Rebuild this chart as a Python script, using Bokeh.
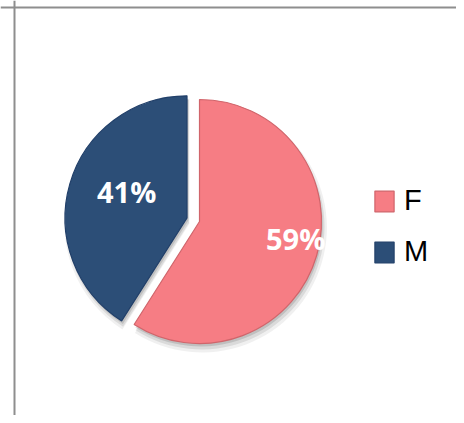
import math
from bokeh.plotting import figure
from bokeh.models import Range1d, Span, Legend, LegendItem, ColumnDataSource
from bokeh.embed import file_html
from bokeh.resources import INLINE
from bokeh.core.properties import value

# ---- data ----
categories = ["F", "M"]
values = [59, 41]
labels = ["59%", "41%"]
colors = ["#F67D84", "#2C4E77"]
edge_colors = ["#D0656B", "#22406A"]

# ---- layout / style constants ----
W, H = 456, 415
cx, cy, r = 199, 202, 122
explode = [0, 13]
label_frac = [0.80, 0.54]
label_shift = [6.3, -7.4]

p = figure(width=W, height=H, x_range=Range1d(0, W), y_range=Range1d(423 - H, 423),
           output_backend="svg", toolbar_location=None, min_border=0)
p.axis.visible = False
p.grid.visible = False
p.outline_line_color = None
p.background_fill_color = "white"
p.border_fill_color = "white"

total = float(sum(values))
cum = 0.0
xs, ys, starts, ends, lx, ly = [], [], [], [], [], []
for i, v in enumerate(values):
    a0 = 90 - cum / total * 360
    cum += v
    a1 = 90 - cum / total * 360
    mid = math.radians((a0 + a1) / 2)
    x0 = cx + explode[i] * math.cos(mid)
    y0 = cy + explode[i] * math.sin(mid)
    xs.append(x0); ys.append(y0)
    starts.append(math.radians(a1)); ends.append(math.radians(a0))
    la = mid + math.radians(label_shift[i])
    lx.append(x0 + label_frac[i] * r * math.cos(la))
    ly.append(y0 + label_frac[i] * r * math.sin(la))

src = ColumnDataSource(dict(x=xs, y=ys, start=starts, end=ends, color=colors,
                            edge=edge_colors, cat=categories, label=labels, lx=lx, ly=ly))

# soft shadow
for off, extra, alpha in [(6, 3, 0.06), (5, 1, 0.09), (3, 0, 0.12)]:
    sh = ColumnDataSource(dict(x=[x + off * 0.4 for x in xs], y=[y - off for y in ys],
                               start=starts, end=ends))
    p.wedge(x="x", y="y", radius=r + extra, start_angle="start", end_angle="end",
            source=sh, fill_color="black", fill_alpha=alpha, line_color=None)

pie = p.wedge(x="x", y="y", radius=r, start_angle="start", end_angle="end",
              source=src, fill_color="color", line_color="edge", line_width=1.2)

p.text(x="lx", y="ly", text="label", source=src, text_color="white",
       text_font=value("Open Sans"), text_font_style="bold", text_font_size="29px",
       text_align="center", text_baseline="middle")

# frame lines
p.add_layout(Span(location=14, dimension="height", line_color="#8E8E8E", line_width=2))
p.add_layout(Span(location=416, dimension="width", line_color="#8E8E8E", line_width=2))

legend = Legend(items=[LegendItem(label=value(c), renderers=[pie], index=i)
                       for i, c in enumerate(categories)],
                location=(372, 147), border_line_color=None, background_fill_alpha=0,
                glyph_width=24, glyph_height=26, label_text_font_size="29px",
                label_text_font="Liberation Sans", label_text_color="black",
                spacing=18, padding=0, margin=0,
                label_standoff=8, label_height=33)
p.add_layout(legend)

open("out.html", "w").write(file_html(p, INLINE))
